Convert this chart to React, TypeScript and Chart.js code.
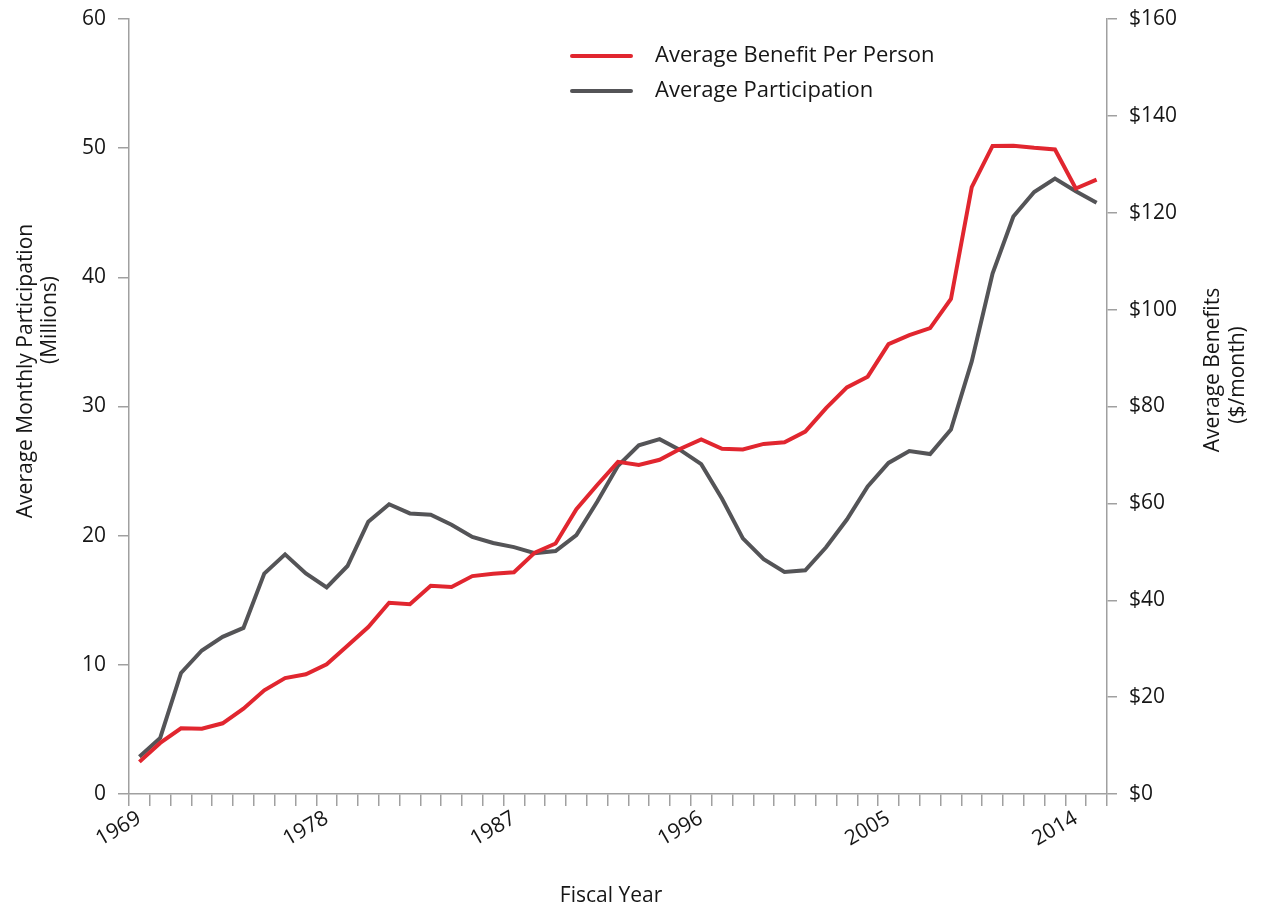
import React, { useEffect, useRef } from "react";
import { Chart, registerables } from "chart.js";

Chart.register(...registerables);

const years = [
  "1969", "1970", "1971", "1972", "1973", "1974", "1975", "1976", "1977", "1978",
  "1979", "1980", "1981", "1982", "1983", "1984", "1985", "1986", "1987", "1988",
  "1989", "1990", "1991", "1992", "1993", "1994", "1995", "1996", "1997", "1998",
  "1999", "2000", "2001", "2002", "2003", "2004", "2005", "2006", "2007", "2008",
  "2009", "2010", "2011", "2012", "2013", "2014", "2015",
];

const shownYearLabels = ["1969", "1978", "1987", "1996", "2005", "2014"];

// Average participation (millions)
const participation = [
  2.88, 4.34, 9.37, 11.11, 12.17, 12.86, 17.06, 18.55, 17.08, 16.0,
  17.65, 21.08, 22.43, 21.72, 21.62, 20.85, 19.9, 19.43, 19.11, 18.65,
  18.81, 20.05, 22.62, 25.41, 26.99, 27.47, 26.62, 25.54, 22.86, 19.79,
  18.18, 17.19, 17.32, 19.1, 21.25, 23.81, 25.63, 26.55, 26.32, 28.22,
  33.49, 40.3, 44.71, 46.61, 47.64, 46.66, 45.77,
];

// Average benefit per person ($/month)
const benefits = [
  6.63, 10.55, 13.55, 13.48, 14.6, 17.61, 21.4, 23.93, 24.71, 26.77,
  30.59, 34.47, 39.49, 39.17, 42.98, 42.74, 44.99, 45.49, 45.78, 49.83,
  51.71, 58.78, 63.78, 68.57, 67.95, 69.0, 71.27, 73.21, 71.27, 71.12,
  72.27, 72.62, 74.81, 79.67, 83.94, 86.16, 92.89, 94.75, 96.18, 102.19,
  125.31, 133.79, 133.85, 133.41, 133.07, 125.01, 126.83,
];

const leftTitle = ["Average Monthly Participation", "(Millions)"];
const rightTitle = ["Average Benefits", "($/month)"];
const xTitle = "Fiscal Year";

const FONT = '"Open Sans", "DejaVu Sans", sans-serif';
const TEXT = "#161616";
const AXIS = "#a0a0a0";
const RED = "#e1262f";
const GREY = "#545457";

const overlayPlugin = {
  id: "overlay",
  afterDraw(chart: any) {
    const { ctx, chartArea } = chart;
    const L = chartArea.left;
    const T = chartArea.top;
    ctx.save();
    // legend
    let ly = T + 37;
    const lx = L + 443;
    chart.data.datasets.forEach((ds: any) => {
      ctx.strokeStyle = ds.borderColor;
      ctx.lineWidth = 4;
      ctx.lineCap = "round";
      ctx.beginPath();
      ctx.moveTo(lx, ly);
      ctx.lineTo(lx + 59, ly);
      ctx.stroke();
      ctx.fillStyle = TEXT;
      ctx.font = `22px ${FONT}`;
      ctx.textAlign = "left";
      ctx.textBaseline = "middle";
      ctx.fillText(ds.label, lx + 83, ly);
      ly += 35;
    });

    // axis titles
    ctx.fillStyle = TEXT;
    ctx.font = `21px ${FONT}`;
    ctx.textAlign = "center";
    ctx.textBaseline = "alphabetic";
    const drawV = (text: string, x: number, y: number) => {
      ctx.save();
      ctx.translate(x, y);
      ctx.rotate(-Math.PI / 2);
      ctx.fillText(text, 0, 0);
      ctx.restore();
    };
    drawV(leftTitle[0], L - 97, T + 352);
    drawV(leftTitle[1], L - 73, T + 301);
    const R = chartArea.right;
    drawV(rightTitle[0], R + 112, T + 351);
    drawV(rightTitle[1], R + 137, T + 356);

    ctx.font = `21px ${FONT}`;
    ctx.textBaseline = "middle";
    ctx.fillText(xTitle, L + 482, chartArea.bottom + 102);
    ctx.restore();
  },
};

export default function App() {
  const canvasRef = useRef<HTMLCanvasElement | null>(null);

  useEffect(() => {
    document.documentElement.style.overflow = "hidden";
    if (!canvasRef.current) return;
    const chart = new Chart(canvasRef.current, {
      type: "line",
      data: {
        labels: years,
        datasets: [
          {
            label: "Average Benefit Per Person",
            data: benefits,
            yAxisID: "y1",
            borderColor: RED,
            backgroundColor: RED,
            borderWidth: 4,
            pointRadius: 0,
            tension: 0,
          },
          {
            label: "Average Participation",
            data: participation,
            yAxisID: "y",
            borderColor: GREY,
            backgroundColor: GREY,
            borderWidth: 4,
            pointRadius: 0,
            tension: 0,
          },
        ],
      },
      options: {
        animation: false,
        responsive: true,
        maintainAspectRatio: false,
        layout: { padding: { top: 11, right: 0, left: 0, bottom: 0 } },
        plugins: {
          legend: { display: false },
          tooltip: { enabled: false },
          title: { display: false },
        },
        scales: {
          x: {
            type: "category",
            offset: true,
            grid: {
              display: true,
              offset: true,
              drawOnChartArea: false,
              drawTicks: true,
              tickLength: 12,
              color: AXIS,
              lineWidth: 1.5,
            },
            border: { display: true, color: AXIS, width: 1.5 },
            ticks: {
              autoSkip: false,
              maxRotation: 30,
              minRotation: 30,
              padding: 0,
              color: TEXT,
              font: { family: FONT, size: 21 },
              callback: (_v: any, i: number) =>
                shownYearLabels.includes(years[i]) ? years[i] : "",
            },
            afterFit: (scale: any) => {
              scale.height = 115;
              scale.paddingLeft = 0;
              scale.paddingRight = 0;
            },
          },
          y: {
            position: "left",
            min: 0,
            max: 60,
            grid: {
              drawOnChartArea: false,
              drawTicks: true,
              tickLength: 11,
              color: AXIS,
              lineWidth: 1.5,
            },
            border: { display: true, color: AXIS, width: 1.5 },
            ticks: {
              stepSize: 10,
              padding: 12,
              color: TEXT,
              font: { family: FONT, size: 21 },
            },
            afterFit: (scale: any) => {
              scale.width = 121;
              scale.paddingTop = 0;
              scale.paddingBottom = 0;
            },
          },
          y1: {
            position: "right",
            min: 0,
            max: 160,
            grid: {
              drawOnChartArea: false,
              drawTicks: true,
              tickLength: 10,
              color: AXIS,
              lineWidth: 1.5,
            },
            border: { display: true, color: AXIS, width: 1.5 },
            ticks: {
              stepSize: 20,
              padding: 12,
              color: TEXT,
              font: { family: FONT, size: 21 },
              callback: (v: any) => "$" + v,
            },
            afterFit: (scale: any) => {
              scale.width = 146;
              scale.paddingTop = 0;
              scale.paddingBottom = 0;
            },
          },
        },
      },
      plugins: [overlayPlugin],
    });
    return () => chart.destroy();
  }, []);

  return (
    <div style={{ width: 1245, height: 901, position: "relative" }}>
      <canvas ref={canvasRef} />
    </div>
  );
}
